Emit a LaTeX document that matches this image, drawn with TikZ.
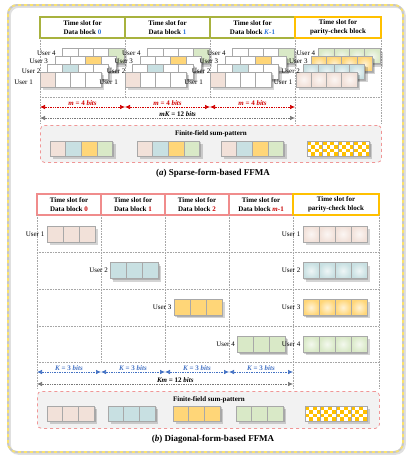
\documentclass[tikz,border=0pt]{standalone}
\usepackage{fontspec}
\setmainfont{Liberation Serif}
\usetikzlibrary{positioning,calc,arrows.meta}

\definecolor{cpink}{RGB}{242,225,217}
\definecolor{cblue}{RGB}{200,224,226}
\definecolor{corange}{RGB}{255,214,120}
\definecolor{cgreen}{RGB}{217,233,199}
\definecolor{cellgray}{RGB}{168,168,168}
\definecolor{olivebd}{RGB}{168,178,62}
\definecolor{paritybd}{RGB}{255,192,0}
\definecolor{redbd}{RGB}{240,140,140}
\definecolor{arrred}{RGB}{210,0,0}
\definecolor{arrblue}{RGB}{68,114,196}
\definecolor{arrgray}{RGB}{120,120,120}
\definecolor{numblue}{RGB}{46,117,216}
\definecolor{numred}{RGB}{200,0,0}
\definecolor{sumfill}{RGB}{242,242,242}
\definecolor{sumbd}{RGB}{240,150,150}
\definecolor{framebd}{RGB}{250,226,110}
\definecolor{ckorange}{RGB}{255,192,0}

\newcommand{\lblfont}{\fontsize{7}{8}\selectfont}
\newcommand{\hdrfont}{\fontsize{7}{9}\selectfont\bfseries}

% soft shadow behind a row of cells: x, y, width, height
\newcommand{\rowshadow}[4]{%
  \fill[shadowbox] (#1+2.8,#2+2.8) rectangle ++(#3,#4);
  \fill[shadowbox] (#1+1.4,#2+1.4) rectangle ++(#3,#4);
}

% checkered cell: x, y, width
\newcommand{\checkcell}[3]{%
  \fill[white] (#1,#2) rectangle ++(#3,15);
  \foreach \ca in {0,...,3}{
    \foreach \cb in {0,...,3}{
      \pgfmathtruncatemacro\cpar{mod(\ca+\cb,2)}
      \ifnum\cpar=0
        \fill[ckorange] (#1+\ca*#3/4,#2+\cb*3.75) rectangle ++(#3/4,3.75);
      \fi
    }
  }
  \draw[cellbox] (#1,#2) rectangle ++(#3,15);
}

\begin{document}
\begin{tikzpicture}[x=1pt, y=-1pt,
    cellbox/.style={draw=cellgray, line width=0.9pt},
    shadowbox/.style={fill=black, opacity=0.17},
    hdrsparse/.style={draw=olivebd, line width=1.1pt, minimum width=85pt, minimum height=21pt, inner sep=0pt, outer sep=0pt, align=center, font=\hdrfont, anchor=north west},
    hdrdiag/.style={hdrsparse, draw=redbd, minimum width=64pt},
    hdrparity/.style={hdrsparse, draw=paritybd, minimum width=86pt},
    userlbl/.style={font=\lblfont, anchor=east, inner sep=0.5pt},
    gridline/.style={densely dotted, draw=black!35, line width=0.6pt},
    dimarrow/.style={densely dotted, line width=0.7pt, {Latex[length=5pt,width=4.5pt]}-{Latex[length=5pt,width=4.5pt]}},
    dimlbl/.style={font=\lblfont\bfseries\itshape, inner sep=1pt},
    sumbox/.style={draw=sumbd, fill=sumfill, dashed, rounded corners=4pt, line width=0.8pt, inner sep=0pt, anchor=north west},
    sumtitle/.style={font=\lblfont\bfseries},
    caption/.style={font=\fontsize{9}{10}\selectfont\bfseries}
]
\useasboundingbox (0,0) rectangle (415,463);

% Outer frame
\draw[black!12, line width=2.6pt, rounded corners=9pt] (9.5,6.5) rectangle (404.5,453.5);
\draw[black!22, line width=2pt, rounded corners=9pt] (8,5) rectangle (403,452);
\draw[framebd, dashed, line width=1.6pt, rounded corners=9pt] (8,5) rectangle (403,452);

%% (a) Sparse form
% Headers
\node[hdrsparse] (ha0) at (40,17) {Time slot for\\Data block \textcolor{numblue}{0}};
\node[hdrsparse, right=0pt of ha0] (ha1) {Time slot for\\Data block \textcolor{numblue}{1}};
\node[hdrsparse, right=0pt of ha1] (ha2) {Time slot for\\Data block \textcolor{numblue}{\textit{K}-1}};
\node[hdrparity, right=0pt of ha2] (ha3) {Time slot for\\parity-check block};

% Grid
\draw[gridline] (40,38) -- (40,123);
\draw[gridline] (125,38) -- (125,97);
\draw[gridline] (210,38) -- (210,97);
\draw[gridline] (295,38) -- (295,123);
\draw[gridline] (381,38) -- (381,123);
\draw[gridline] (40,97) -- (381,97);

% Stacked user layers, data blocks
\foreach \bx in {40,125,210} {
  \foreach \k/\kc in {3/cgreen,2/corange,1/cblue,0/cpink} {
    \pgfmathsetmacro\lx{\bx+7.6*\k}
    \pgfmathsetmacro\ly{72-7.7*\k}
    \rowshadow{\lx}{\ly}{61.2}{15}
    \foreach \ci in {0,...,3} {
      \ifnum\ci=\k \def\fc{\kc}\else\def\fc{white}\fi
      \draw[cellbox, fill=\fc] (\lx+\ci*15.3,\ly) rectangle ++(15.3,15);
    }
  }
}
% Stacked user layers, parity block
\foreach \k/\kc in {3/cgreen,2/corange,1/cblue,0/cpink} {
  \pgfmathsetmacro\lx{296+7.6*\k}
  \pgfmathsetmacro\ly{72-7.7*\k}
  \rowshadow{\lx}{\ly}{61.2}{15}
  \foreach \ci in {0,...,3}
    \draw[cellbox, inner color=\kc!30, outer color=\kc] (\lx+\ci*15.3,\ly) rectangle ++(15.3,15);
}
% User labels
\foreach \bx/\gap [count=\j] in {40/6.5,125/6.5,210/6.5,296/3} {
  \foreach \k/\off in {0/10,1/6.5,2/4.5,3/4} {
    \pgfmathsetmacro\lx{\bx+7.6*\k-\gap}
    \pgfmathsetmacro\ly{72-7.7*\k+\off}
    \pgfmathtruncatemacro\u{\k+1}
    \node[userlbl] (ua\j\u) at (\lx,\ly) {User \u};
  }
}

% Bit lengths
\foreach \x [count=\i from 0] in {40,125,210,295}
  \coordinate (ma\i) at (\x,107);
\foreach \i [evaluate=\i as \n using int(\i+1)] in {0,1,2}
  \draw[dimarrow, arrred] (ma\i) -- node[above, dimlbl] {m\upshape{} = 4 \itshape bits} (ma\n);
\coordinate (mk0) at (40,118);
\coordinate (mk1) at (295,118);
\draw[dimarrow, arrgray] (mk0) -- node[pos=0.54, above, dimlbl, black] {mK\upshape{} = 12 \itshape bits} (mk1);

% Sum pattern
\node[sumbox, minimum width=341pt, minimum height=37pt] (suma) at (40,125) {};
\node[sumtitle] (sumta) at (211,134) {Finite-field sum-pattern};
\foreach \gx in {50,137,221} {
  \rowshadow{\gx}{141}{62.8}{15}
  \foreach \ci/\kc in {0/cpink,1/cblue,2/corange,3/cgreen}
    \draw[cellbox, fill=\kc] (\gx+\ci*15.7,141) rectangle ++(15.7,15);
}
\rowshadow{307}{141}{62.4}{15}
\foreach \ci in {0,...,3} { \checkcell{307+\ci*15.6}{141}{15.6} }

\node[caption] (capa) at (213,173) {(\textit{a}) Sparse-form-based FFMA};

%% (b) Diagonal form
% Headers
\node[hdrdiag] (hb0) at (37,194) {Time slot for\\Data block \textcolor{numred}{0}};
\node[hdrdiag, right=0pt of hb0] (hb1) {Time slot for\\Data block \textcolor{numred}{1}};
\node[hdrdiag, right=0pt of hb1] (hb2) {Time slot for\\Data block \textcolor{numred}{2}};
\node[hdrdiag, right=0pt of hb2] (hb3) {Time slot for\\Data block \textcolor{numred}{\textit{m}-1}};
\node[hdrparity, right=0pt of hb3] (hb4) {Time slot for\\parity-check block};

% Grid
\foreach \x in {37,293,379} \draw[gridline] (\x,215) -- (\x,388);
\foreach \x in {101,165,229} \draw[gridline] (\x,215) -- (\x,362);
\foreach \y in {252,289,326,362} \draw[gridline] (37,\y) -- (379,\y);

% Diagonal users and parity
\foreach \r/\kc in {0/cpink,1/cblue,2/corange,3/cgreen} {
  \pgfmathsetmacro\lx{47+63.5*\r}
  \pgfmathsetmacro\ly{226+36.7*\r}
  \pgfmathtruncatemacro\u{\r+1}
  \rowshadow{\lx}{\ly}{48}{16}
  \foreach \ci in {0,1,2}
    \draw[cellbox, fill=\kc] (\lx+\ci*16,\ly) rectangle ++(16,16);
  \node[userlbl] (ub\u) at (\lx-2,\ly+8) {User \u};
  \rowshadow{303}{\ly}{64}{16}
  \foreach \ci in {0,...,3}
    \draw[cellbox, inner color=\kc!30, outer color=\kc] (303+\ci*16,\ly) rectangle ++(16,16);
  \node[userlbl] (up\u) at (301,\ly+8) {User \u};
}

% Bit lengths
\foreach \x [count=\i from 0] in {37,101,165,229,293}
  \coordinate (kb\i) at (\x,372);
\foreach \i [evaluate=\i as \n using int(\i+1)] in {0,1,2,3}
  \draw[dimarrow, arrblue] (kb\i) -- node[above, dimlbl] {K\upshape{} = 3 \itshape bits} (kb\n);
\coordinate (km0) at (37,384);
\coordinate (km1) at (293,384);
\draw[dimarrow, arrgray] (km0) -- node[pos=0.54, above, dimlbl, black] {Km\upshape{} = 12 \itshape bits} (km1);

% Sum pattern
\node[sumbox, minimum width=342pt, minimum height=37pt] (sumb) at (37,391) {};
\node[sumtitle] (sumtb) at (209,400) {Finite-field sum-pattern};
\foreach \gx/\kc in {47/cpink,108/cblue,173/corange,236/cgreen} {
  \rowshadow{\gx}{406}{47.1}{15}
  \foreach \ci in {0,1,2}
    \draw[cellbox, fill=\kc] (\gx+\ci*15.7,406) rectangle ++(15.7,15);
}
\rowshadow{305}{406}{62}{15}
\foreach \ci in {0,...,3} { \checkcell{305+\ci*15.5}{406}{15.5} }

\node[caption] (capb) at (213,439) {(\textit{b}) Diagonal-form-based FFMA};
\end{tikzpicture}
\end{document}
